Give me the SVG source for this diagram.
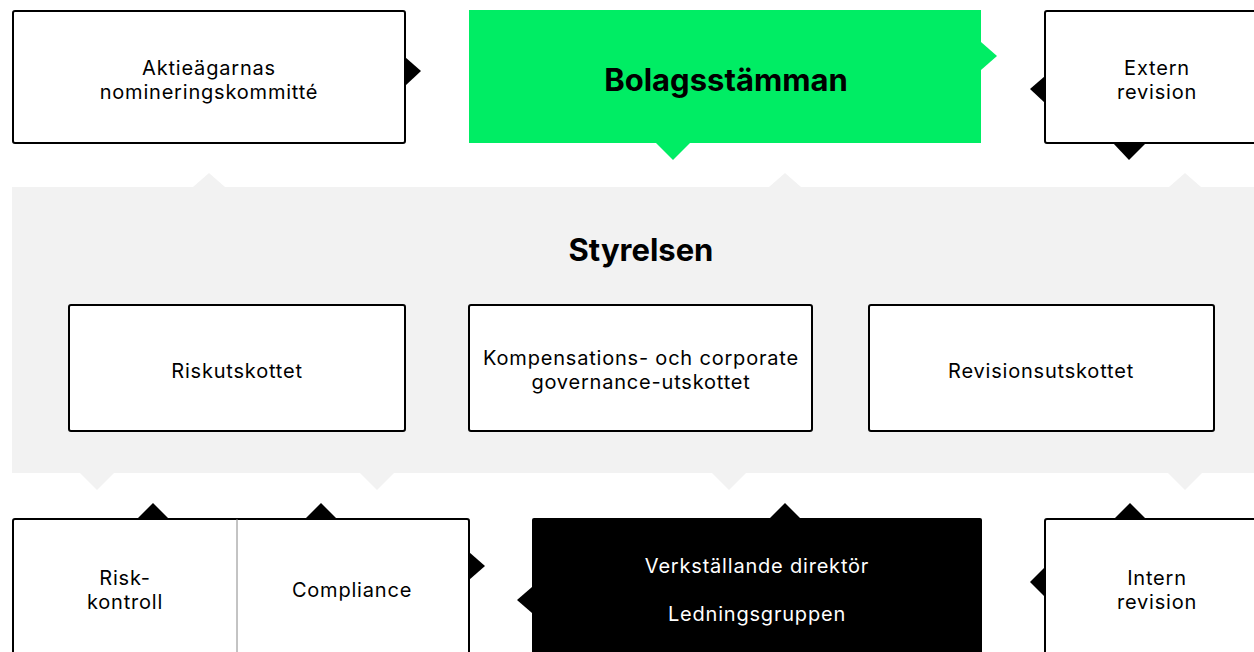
<svg xmlns="http://www.w3.org/2000/svg" width="1254" height="652" viewBox="0 0 1254 652">
<style>
.box{fill:#fff;stroke:#000;stroke-width:2}
.t{font-family:Inter,"Noto Sans","Liberation Sans",sans-serif;font-size:20px;letter-spacing:0.8px;fill:#000;text-anchor:middle}
.w{fill:#fff}
.b{font-family:Inter,"Noto Sans","Liberation Sans",sans-serif;font-weight:700;font-size:31px;fill:#000;text-anchor:middle}
.grey{fill:#f2f2f2}
.blk{fill:#000}
.grn{fill:#00ed64}
</style>
<rect width="1254" height="652" fill="#fff"/>
<g id="styrelsen">
<rect class="grey" x="12" y="187" width="1250" height="286"/>
<polygon class="grey" points="193,187 209,173 225,187"/>
<polygon class="grey" points="769,187 785,173 801,187"/>
<polygon class="grey" points="1169,187 1185,173 1201,187"/>
<polygon class="grey" points="80,473 97,490 114,473"/>
<polygon class="grey" points="360,473 377,490 394,473"/>
<polygon class="grey" points="712,473 729,490 746,473"/>
<polygon class="grey" points="1168,473 1185,490 1202,473"/>
<text class="b" x="641" y="261">Styrelsen</text>
</g>
<g id="connectors">
<polygon class="blk" points="405,57 421,71 405,86"/>
<polygon class="grn" points="981,42 997,56 981,70"/>
<polygon class="grn" points="656,143 673,160 690,143"/>
<polygon class="blk" points="1045,76 1030,89 1045,103"/>
<polygon class="blk" points="1113,143 1129,160 1146,143"/>
<polygon class="blk" points="138,518 153,503 168,518"/>
<polygon class="blk" points="306,518 321,503 336,518"/>
<polygon class="blk" points="469,552 485,566 469,580"/>
<polygon class="blk" points="770,518 785,503 800,518"/>
<polygon class="blk" points="532,587 517,600 532,613"/>
<polygon class="blk" points="1115,518 1130,503 1145,518"/>
<polygon class="blk" points="1045,567 1030,582 1045,597"/>
</g>
<g id="nominering">
<rect class="box" x="13" y="11" width="392" height="132" rx="2"/>
<text class="t" x="209" y="75">Aktieägarnas</text>
<text class="t" x="209" y="99">nomineringskommitté</text>
</g>
<g id="bolagsstamman">
<rect class="grn" x="469" y="10" width="512" height="133"/>
<text class="b" x="726" y="91">Bolagsstämman</text>
</g>
<g id="extern">
<rect class="box" x="1045" y="11" width="220" height="132" rx="2"/>
<text class="t" x="1157" y="75">Extern</text>
<text class="t" x="1157" y="99">revision</text>
</g>
<g id="riskutskottet">
<rect class="box" x="69" y="305" width="336" height="126" rx="2"/>
<text class="t" x="237" y="378">Riskutskottet</text>
</g>
<g id="kompensation">
<rect class="box" x="469" y="305" width="343" height="126" rx="2"/>
<text class="t" x="641" y="365">Kompensations- och corporate</text>
<text class="t" x="641" y="389">governance-utskottet</text>
</g>
<g id="revisionsutskottet">
<rect class="box" x="869" y="305" width="345" height="126" rx="2"/>
<text class="t" x="1041" y="378">Revisionsutskottet</text>
</g>
<g id="riskkontroll-compliance">
<rect class="box" x="13" y="519" width="456" height="150" rx="2"/>
<line x1="237" y1="519" x2="237" y2="660" stroke="#888" stroke-width="1"/>
<text class="t" x="125" y="585">Risk-</text>
<text class="t" x="125" y="609">kontroll</text>
<text class="t" x="352" y="597">Compliance</text>
</g>
<g id="vd">
<rect class="blk" x="532" y="518" width="450" height="150" rx="2"/>
<text class="t w" x="757" y="573">Verkställande direktör</text>
<text class="t w" x="757" y="621">Ledningsgruppen</text>
</g>
<g id="intern">
<rect class="box" x="1045" y="519" width="220" height="150" rx="2"/>
<text class="t" x="1157" y="585">Intern</text>
<text class="t" x="1157" y="609">revision</text>
</g>
</svg>
